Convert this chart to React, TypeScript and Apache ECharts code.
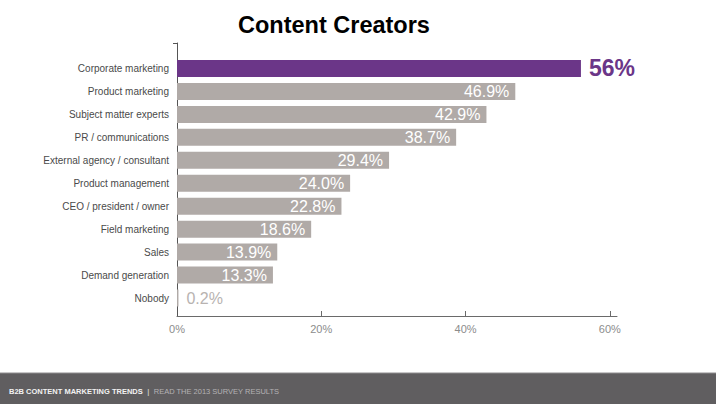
import React, { useEffect, useRef } from "react";
import * as echarts from "echarts";

const categories = [
  "Corporate marketing",
  "Product marketing",
  "Subject matter experts",
  "PR / communications",
  "External agency / consultant",
  "Product management",
  "CEO / president / owner",
  "Field marketing",
  "Sales",
  "Demand generation",
  "Nobody",
];
const values = [56, 46.9, 42.9, 38.7, 29.4, 24.0, 22.8, 18.6, 13.9, 13.3, 0.2];
const valueLabels = ["56%", "46.9%", "42.9%", "38.7%", "29.4%", "24.0%", "22.8%", "18.6%", "13.9%", "13.3%", "0.2%"];
const tickValues = [0, 20, 40, 60];
const title = "Content Creators";
const footerLeft = "B2B CONTENT MARKETING TRENDS";
const footerRight = "READ THE 2013 SURVEY RESULTS";

const PURPLE = "#6b3688";
const GRAY = "#b0aaa7";
const FONT = "Liberation Sans";

export default function App() {
  const ref = useRef<HTMLDivElement>(null);
  useEffect(() => {
    const chart = echarts.init(ref.current!, undefined, { renderer: "svg" });
    const data = values.map((v, i) => {
      const highlight = i === 0;
      const tiny = v < 1;
      return {
        value: v,
        itemStyle: { color: highlight ? PURPLE : GRAY },
        label: highlight
          ? {
              show: true,
              position: "right",
              distance: 8,
              color: PURPLE,
              fontSize: 23,
              fontWeight: "bold",
              fontFamily: FONT,
              formatter: () => valueLabels[i],
            }
          : tiny
          ? {
              show: true,
              position: "right",
              distance: 8,
              color: "#b8b3b1",
              fontSize: 16,
              fontFamily: FONT,
              formatter: () => valueLabels[i],
            }
          : {
              show: true,
              position: "insideRight",
              distance: 6,
              color: "#ffffff",
              fontSize: 16,
              fontFamily: FONT,
              formatter: () => valueLabels[i],
            },
      };
    });
    chart.setOption({
      animation: false,
      backgroundColor: "#ffffff",
      title: {
        text: title,
        left: 233,
        top: 8,
        textStyle: { fontFamily: FONT, fontWeight: "bold", fontSize: 23.5, color: "#000" },
      },
      grid: [
        { left: 177, right: 99, top: 43, bottom: 88, containLabel: false },
        { left: 177, right: 99, top: 57, bottom: 94.5, containLabel: false },
      ],
      xAxis: [
        {
          gridIndex: 0,
          type: "value",
          min: 0,
          max: 61,
          interval: 20,
          splitLine: { show: false },
          axisLine: { show: true, lineStyle: { color: "#6a6a6a", width: 1 } },
          axisTick: { show: true, inside: true, length: 5, lineStyle: { color: "#6a6a6a" }, customValues: [20, 40, 60] },
          axisLabel: {
            show: true,
            customValues: tickValues,
            formatter: (v: number) => v + "%",
            color: "#8c8c8c",
            fontSize: 11,
            fontFamily: FONT,
            margin: 7,
          },
        },
        {
          gridIndex: 1,
          type: "value",
          min: 0,
          max: 61,
          show: false,
        },
      ],
      yAxis: [
        {
          gridIndex: 0,
          type: "value",
          min: 0,
          max: 1,
          interval: 1,
          splitLine: { show: false },
          axisLabel: { show: false },
          axisLine: { show: true, lineStyle: { color: "#555", width: 1 } },
          axisTick: { show: true, inside: false, length: 4, lineStyle: { color: "#555" }, customValues: [1] },
        },
        {
          gridIndex: 1,
          type: "category",
          inverse: true,
          data: categories,
          axisLine: { show: false },
          axisTick: { show: false },
          axisLabel: {
            color: "#4a4a4a",
            fontSize: 10,
            fontFamily: FONT,
            margin: 8,
          },
        },
      ],
      series: [
        {
          type: "bar",
          xAxisIndex: 1,
          yAxisIndex: 1,
          barWidth: 17,
          data,
        },
      ],
      graphic: [
        {
          type: "rect",
          shape: { x: 0, y: 373, width: 716, height: 31 },
          style: { fill: "#605e60" },
        },
        {
          type: "line",
          shape: { x1: 0, y1: 373, x2: 716, y2: 373 },
          style: { stroke: "#8e8c8e", lineWidth: 1 },
        },
        {
          type: "text",
          x: 9,
          y: 391,
          style: {
            text: "{a|" + footerLeft + "}{s|  |  }{b|" + footerRight + "}",
            verticalAlign: "middle",
            rich: {
              a: { fill: "#f2f2f2", fontSize: 7.5, fontFamily: FONT, fontWeight: "bold" },
              s: { fill: "#e0e0e0", fontSize: 8, fontFamily: FONT },
              b: { fill: "#b4b2b4", fontSize: 7.5, fontFamily: FONT },
            },
          },
        },
      ],
    });
    return () => chart.dispose();
  }, []);
  return <div ref={ref} style={{ position: "fixed", left: 0, top: 0, width: 716, height: 404 }} />;
}
